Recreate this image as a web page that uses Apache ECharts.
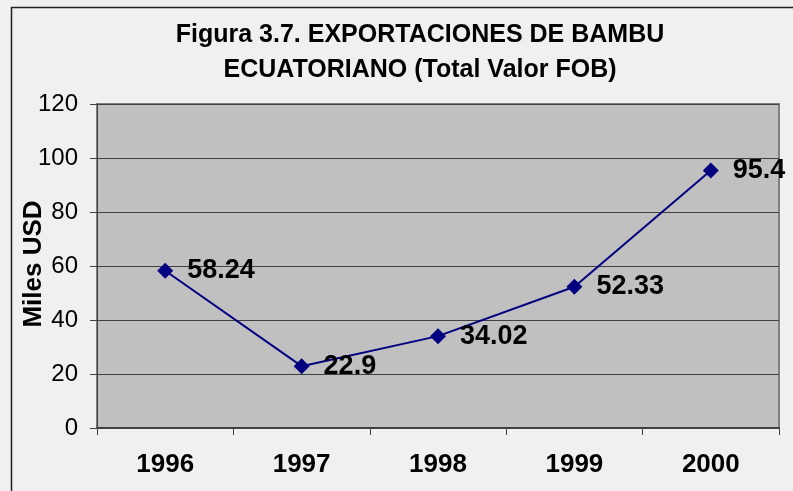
<!DOCTYPE html>
<html>
<head>
<meta charset="utf-8">
<script src="https://cdn.jsdelivr.net/npm/echarts@6/dist/echarts.min.js"></script>
<style>
  html, body { margin: 0; padding: 0; background: #f0f0f0; }
  #chart { width: 793px; height: 491px; }
</style>
</head>
<body>
<div id="chart"></div>
<script>
  // datos
  var years = ['1996', '1997', '1998', '1999', '2000'];
  var valores = [58.24, 22.9, 34.02, 52.33, 95.4];
  var yTicks = [0, 20, 40, 60, 80, 100, 120];
  var yTitulo = 'Miles USD';

  var myChart = echarts.init(document.getElementById('chart'));

  var option = {
    backgroundColor: '#f0f0f0',
    animation: false,
    title: {
      text: 'Figura 3.7. EXPORTACIONES DE BAMBU\nECUATORIANO (Total Valor FOB)',
      left: 415,
      textAlign: 'center',
      top: 13,
      textStyle: {
        fontFamily: 'Liberation Sans',
        fontWeight: 'bold',
        fontSize: 25,
        lineHeight: 35,
        color: '#000'
      }
    },
    graphic: [{
      // marco exterior (solo visible arriba y a la izquierda)
      type: 'rect',
      shape: { x: 11.5, y: 7.5, width: 800, height: 500 },
      style: { fill: 'none', stroke: '#202020', lineWidth: 1.5 },
      silent: true
    }, {
      // titulo del eje Y (el nombre del eje se desplaza solo en v6)
      type: 'text',
      x: 34,
      y: 264,
      rotation: Math.PI / 2,
      style: {
        text: yTitulo,
        align: 'center',
        verticalAlign: 'middle',
        font: 'bold 26px "Liberation Sans"',
        fill: '#000'
      },
      silent: true
    }],
    grid: {
      left: 97,
      right: 14,
      top: 104,
      bottom: 63,
      outerBoundsMode: 'none',
      show: true,
      backgroundColor: '#c0c0c0',
      borderColor: '#808080',
      borderWidth: 2
    },
    xAxis: {
      type: 'category',
      data: years,
      boundaryGap: true,
      axisLine: { lineStyle: { color: '#404040', width: 2 } },
      axisTick: { show: true, length: 7, inside: false, lineStyle: { color: '#404040' } },
      axisLabel: {
        margin: 24,
        fontFamily: 'Liberation Sans',
        fontWeight: 'bold',
        fontSize: 26,
        color: '#000'
      },
      splitLine: { show: false }
    },
    yAxis: {
      type: 'value',
      min: yTicks[0],
      max: yTicks[yTicks.length - 1],
      interval: 20,
      axisLine: { show: true, lineStyle: { color: '#404040', width: 1 } },
      axisTick: { show: true, length: 7, inside: false, lineStyle: { color: '#404040' } },
      axisLabel: {
        margin: 19,
        fontFamily: 'Liberation Sans',
        fontSize: 24,
        color: '#000'
      },
      splitLine: { show: true, lineStyle: { color: '#404040', width: 1 } }
    },
    series: [{
      type: 'line',
      data: valores,
      symbol: 'diamond',
      symbolSize: 16,
      lineStyle: { color: '#000080', width: 2 },
      itemStyle: { color: '#000080' },
      label: {
        show: true,
        position: 'right',
        distance: 14,
        fontFamily: 'Liberation Sans',
        fontWeight: 'bold',
        fontSize: 27,
        color: '#000'
      }
    }]
  };
  myChart.setOption(option);
</script>
</body>
</html>
